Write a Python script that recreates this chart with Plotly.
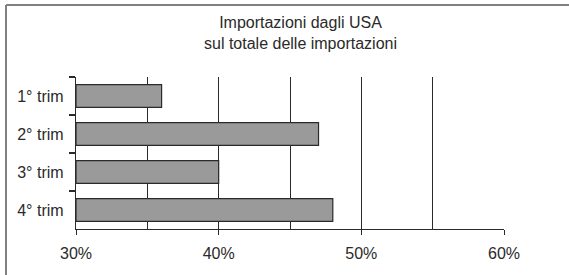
import plotly.graph_objects as go

categories = ["1° trim", "2° trim", "3° trim", "4° trim"]
values = [36, 47, 40, 48]
x_tick_vals = [30, 40, 50, 60]
x_tick_text = ["30%", "40%", "50%", "60%"]
title_text = "Importazioni dagli USA<br>sul totale delle importazioni"

FONT = "Liberation Sans, Arial, sans-serif"
DARK = "#2a2a2a"

fig = go.Figure(
    go.Bar(
        y=categories,
        x=[v - 30 for v in values],
        base=30,
        orientation="h",
        marker=dict(color="#9a9a9a", line=dict(color=DARK, width=1.2)),
        hoverinfo="skip",
    )
)

fig.update_layout(
    width=569,
    height=275,
    margin=dict(l=76, r=65, t=77, b=46),
    paper_bgcolor="white",
    plot_bgcolor="white",
    showlegend=False,
    bargap=0.40,
    font=dict(family=FONT, size=16, color=DARK),
    xaxis=dict(
        range=[30, 60],
        tickvals=x_tick_vals,
        ticktext=x_tick_text,
        showgrid=True,
        gridcolor=DARK,
        gridwidth=1,
        minor=dict(tickvals=[35, 45, 55], showgrid=True, gridcolor=DARK, gridwidth=1),
        showline=True,
        linecolor=DARK,
        linewidth=1.2,
        ticks="outside",
        ticklen=5,
        tickcolor=DARK,
        ticklabelstandoff=5,
        zeroline=False,
        fixedrange=True,
    ),
    yaxis=dict(
        categoryorder="array",
        categoryarray=categories,
        autorange="reversed",
        showline=True,
        linecolor=DARK,
        linewidth=1.2,
        ticks="outside",
        tickson="boundaries",
        ticklen=6,
        tickwidth=1.2,
        tickcolor=DARK,
        ticklabelstandoff=8,
        showgrid=False,
        zeroline=False,
        fixedrange=True,
    ),
    annotations=[
        dict(
            text=title_text,
            xref="paper",
            yref="paper",
            x=0.5257,
            y=1.29,
            xanchor="center",
            yanchor="middle",
            showarrow=False,
            font=dict(family=FONT, size=16, color=DARK),
        )
    ],
    shapes=[
        dict(type="line", xref="paper", yref="paper",
             x0=(6 - 76) / 428, x1=(569 - 76) / 428,
             y0=(229 - 5) / 152, y1=(229 - 5) / 152,
             line=dict(color="#808080", width=2)),
        dict(type="line", xref="paper", yref="paper",
             x0=(6 - 76) / 428, x1=(6 - 76) / 428,
             y0=(229 - 5) / 152, y1=(229 - 280) / 152,
             line=dict(color="#808080", width=2)),
    ],
)

fig.write_html(
    "out.html",
    config={"displayModeBar": False, "staticPlot": True},
    post_script="document.body.style.margin='0';document.body.style.overflow='hidden';",
)
